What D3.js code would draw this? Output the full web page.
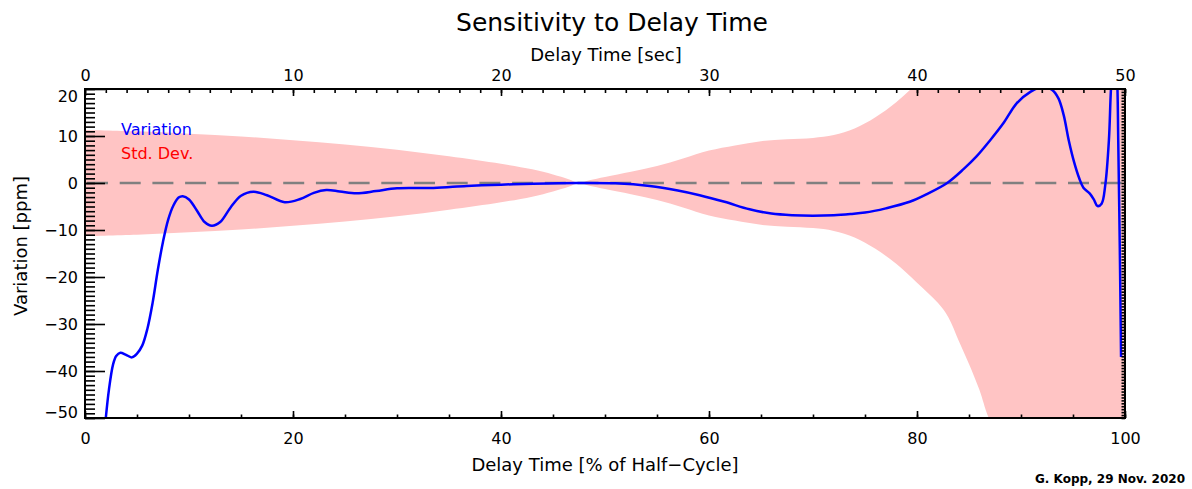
<!DOCTYPE html>
<html>
<head>
<meta charset="utf-8">
<script src="https://cdn.jsdelivr.net/npm/d3@7"></script>
<style>
  body { margin: 0; background: #fff; }
  svg text { font-family: "DejaVu Sans", sans-serif; fill: #000; }
</style>
</head>
<body>
<div id="chart"></div>
<script>
// variation curve, % of half-cycle vs ppm
const pct = [1.6, 2.0, 2.3, 2.7, 3.0, 3.4, 3.9, 4.5, 5.0, 5.5, 6.0, 6.5, 7.0, 7.5, 8.0, 8.5, 9.0, 9.4,
  10.0, 10.8, 11.5, 12.2, 13.0, 14.0, 15.0, 16.2, 17.5, 19.2, 20.7, 22.0, 23.2, 24.5, 26.1, 28.0,
  30, 33.5, 36.7, 40, 43.1, 47.3, 51, 54.3, 57, 59.1, 61.5, 63.9, 66, 68, 70, 72, 73.6, 75, 77,
  79.3, 81, 82.9, 84.5, 85.7, 87, 88.3, 89.6, 90.9, 92, 93, 93.6, 94.1, 94.6, 95.1, 95.6, 96.0,
  96.6, 97.0, 97.35, 97.75, 98.1, 98.45, 98.65, 99.0, 99.25, 99.35, 99.5, 99.62];
const variation = [-60, -50, -44, -38.6, -36.8, -36.1, -36.5, -37.1, -36.3, -34.6, -31, -25.5, -18.5, -12.5, -7.8, -4.8, -3.1, -2.8,
  -3.5, -6, -8.3, -9.1, -8.3, -5.2, -2.7, -1.85, -2.6, -4.1, -3.4, -2.1, -1.5, -1.8, -2.2, -1.7,
  -1.1, -1.05, -0.64, -0.35, -0.15, 0, -0.07, -0.64, -1.6, -2.6, -4, -5.6, -6.5, -6.85, -6.95, -6.85, -6.6, -6.3, -5.4,
  -4.0, -2.3, 0, 3, 5.6, 9, 12.7, 17, 19.4, 20.4, 19.8, 18, 14.5, 9, 4.5, 1, -1.0,
  -2.2, -3.5, -4.9, -4.4, -0.5, 9, 20, 32, 22, 9, -14, -37];

// standard deviation envelope (+/- sigma)
const sdPct = [0, 5, 10, 15, 20, 25, 30, 35, 40, 43, 45, 46.5, 47.5, 48.5, 50, 52.5, 55, 57.5, 60, 62.5,
  65, 67.5, 70, 72, 74, 76, 78, 80, 82, 83, 84, 85, 86, 87, 90, 95, 100];
const sdVal = [11.3, 11.0, 10.5, 9.9, 9.1, 8.2, 7.1, 5.7, 4.1, 2.9, 1.8, 0.8, 0, 0.6, 1.3, 2.4, 3.6, 5.2, 6.9, 8.0,
  8.9, 9.3, 9.6, 10.2, 11.6, 14.0, 17.2, 21.2, 25.5, 28.5, 33.5, 38.5, 44, 50.5, 62, 75, 85];

const xTicks = [0, 20, 40, 60, 80, 100];
const secTicks = [0, 10, 20, 30, 40, 50];
const yTicks = [-50, -40, -30, -20, -10, 0, 10, 20];

const width = 1192;
const height = 489;
const margin = { top: 89, right: 67, bottom: 71, left: 85 };

const svg = d3
  .select("#chart")
  .append("svg")
  .attr("width", width)
  .attr("height", height);

const x = d3.scaleLinear().domain([0, 100]).range([margin.left, width - margin.right]);
const xSec = d3.scaleLinear().domain([0, 50]).range([margin.left, width - margin.right]);
const y = d3.scaleLinear().domain([-50, 20]).range([height - margin.bottom, margin.top]);

svg.append("clipPath").attr("id", "plot")
  .append("rect")
  .attr("x", margin.left)
  .attr("y", margin.top)
  .attr("width", x.range()[1] - x.range()[0])
  .attr("height", y.range()[0] - y.range()[1]);

const sd = sdPct.map((p, i) => ({ p, s: sdVal[i] }));
const vr = pct.map((p, i) => ({ p, v: variation[i] }));

// std dev band
svg.append("path")
  .datum(sd)
  .attr("clip-path", "url(#plot)")
  .attr("fill", "#ffc4c4")
  .attr("d", d3.area()
    .x((d) => x(d.p))
    .y0((d) => y(-d.s))
    .y1((d) => y(d.s))
    .curve(d3.curveCatmullRom.alpha(0.5)));

// zero line
svg.append("line")
  .attr("x1", x(0) + 2).attr("x2", x(100))
  .attr("y1", y(0)).attr("y2", y(0))
  .attr("stroke", "#808080")
  .attr("stroke-width", 2.5)
  .attr("stroke-dasharray", "21,11.7");

// variation curve
svg.append("path")
  .datum(vr)
  .attr("clip-path", "url(#plot)")
  .attr("fill", "none")
  .attr("stroke", "#0000ff")
  .attr("stroke-width", 2.5)
  .attr("d", d3.line()
    .x((d) => x(d.p))
    .y((d) => y(d.v))
    .curve(d3.curveCatmullRom.alpha(0.5)));

const minus = (d) => (d < 0 ? "\u2212" + Math.abs(d) : d);

function styleAxis(g) {
  g.select(".domain").remove();
  g.selectAll("line").attr("stroke", "#000").attr("stroke-width", 1.6);
  g.selectAll("text").attr("font-size", 16).attr("fill", "#000");
}

// bottom axis
svg.append("g")
  .attr("transform", `translate(0, ${y(-50)})`)
  .call(d3.axisBottom(x).tickValues(d3.range(0, 101, 5)).tickSize(-3.5).tickFormat(""))
  .call(styleAxis);
svg.append("g")
  .attr("transform", `translate(0, ${y(-50)})`)
  .call(d3.axisBottom(x).tickValues(xTicks).tickSize(-7).tickPadding(15))
  .call(styleAxis);

// top axis (seconds)
svg.append("g")
  .attr("transform", `translate(0, ${y(20)})`)
  .call(d3.axisTop(xSec).tickValues(d3.range(0, 51, 1)).tickSize(-4).tickFormat(""))
  .call(styleAxis);
svg.append("g")
  .attr("transform", `translate(0, ${y(20)})`)
  .call(d3.axisTop(xSec).tickValues(secTicks).tickSize(-7).tickPadding(8))
  .call(styleAxis);

// left axis
svg.append("g")
  .attr("transform", `translate(${x(0)}, 0)`)
  .call(d3.axisLeft(y).tickValues(d3.range(-50, 21, 1)).tickSize(-10).tickFormat(""))
  .call(styleAxis);
const left = svg.append("g")
  .attr("transform", `translate(${x(0)}, 0)`)
  .call(d3.axisLeft(y).tickValues(yTicks).tickSize(-20).tickPadding(7).tickFormat(minus))
  .call(styleAxis);
left.selectAll(".tick text")
  .attr("dy", (d) => (d === 20 ? "0.75em" : d === -50 ? "-0.05em" : "0.35em"));

// right axis
svg.append("g")
  .attr("transform", `translate(${x(100)}, 0)`)
  .call(d3.axisRight(y).tickValues(d3.range(-50, 20.01, 0.625)).tickSize(-3.5).tickFormat(""))
  .call(styleAxis);

// frame
svg.append("rect")
  .attr("x", x(0)).attr("y", y(20))
  .attr("width", x(100) - x(0)).attr("height", y(-50) - y(20))
  .attr("fill", "none")
  .attr("stroke", "#000")
  .attr("stroke-width", 2);

// titles
svg.append("text")
  .attr("x", 612).attr("y", 31)
  .attr("text-anchor", "middle")
  .attr("font-size", 25)
  .text("Sensitivity to Delay Time");

svg.append("text")
  .attr("x", 606).attr("y", 61)
  .attr("text-anchor", "middle")
  .attr("font-size", 18)
  .text("Delay Time [sec]");

svg.append("text")
  .attr("x", 605).attr("y", 471)
  .attr("text-anchor", "middle")
  .attr("font-size", 18)
  .text("Delay Time [% of Half\u2212Cycle]");

svg.append("text")
  .attr("transform", "translate(27, 246) rotate(-90)")
  .attr("text-anchor", "middle")
  .attr("font-size", 18)
  .text("Variation [ppm]");

// legend
svg.append("text")
  .attr("x", 121).attr("y", 135)
  .attr("font-size", 16)
  .style("fill", "#0000ff")
  .text("Variation");
svg.append("text")
  .attr("x", 121).attr("y", 159)
  .attr("font-size", 16)
  .style("fill", "#ff0000")
  .text("Std. Dev.");

// credit
svg.append("text")
  .attr("x", 1185).attr("y", 483)
  .attr("text-anchor", "end")
  .attr("font-size", 12)
  .attr("font-weight", "bold")
  .text("G. Kopp, 29 Nov. 2020");
</script>
</body>
</html>
